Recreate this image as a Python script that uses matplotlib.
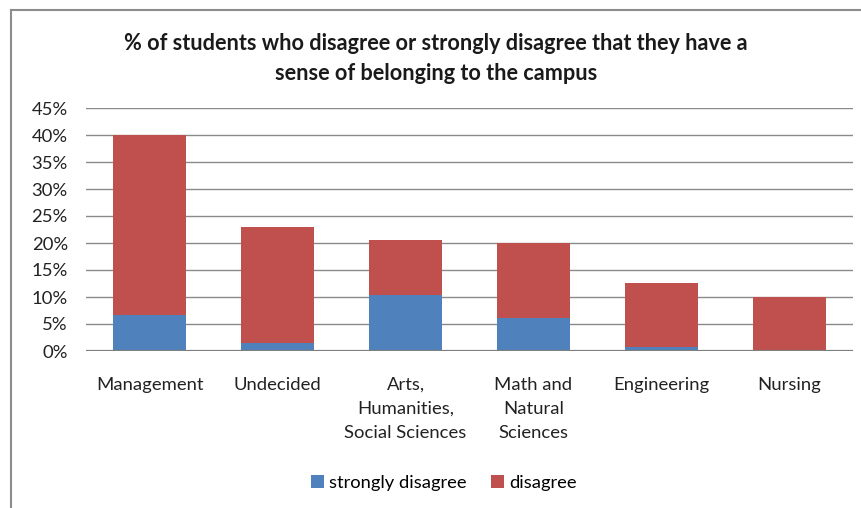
import matplotlib
matplotlib.use("Agg")
import matplotlib.pyplot as plt
from matplotlib.lines import Line2D
from matplotlib.patches import Patch
from matplotlib.ticker import PercentFormatter, MultipleLocator

plt.rcParams['font.family'] = ['Lato', 'DejaVu Sans']

categories = ["Management", "Undecided", "Arts,\nHumanities,\nSocial Sciences",
              "Math and\nNatural\nSciences", "Engineering", "Nursing"]
strongly_disagree = [6.6, 1.4, 10.3, 6.1, 0.7, 0.0]
disagree = [33.4, 21.5, 10.2, 13.9, 11.9, 10.0]

blue = "#4F81BD"
red = "#C0504D"
W, H = 862, 508
fig = plt.figure(figsize=(W / 100, H / 100), dpi=100)

ax = fig.add_axes([86 / W, 1 - 351 / H, (853 - 86) / W, (351 - 108) / H])
x = list(range(len(categories)))
ax.bar(x, strongly_disagree, width=0.57, color=blue, zorder=3)
ax.bar(x, disagree, bottom=strongly_disagree, width=0.57, color=red, zorder=3)

ax.set_xlim(-0.5, len(categories) - 0.5)
ax.set_ylim(0, 45)
ax.yaxis.set_major_locator(MultipleLocator(5))
ax.yaxis.set_major_formatter(PercentFormatter(decimals=0))
ax.grid(axis='y', color='#8a8a8a', linewidth=1.0, zorder=0)
for s in ax.spines.values():
    s.set_visible(False)
ax.axhline(0, color='#7f7f7f', linewidth=1.6, zorder=4)
ax.set_xticks(x)
ax.set_xticklabels(categories, linespacing=1.62)
ax.tick_params(axis='both', length=0, labelsize=13.3, colors='#000000')
ax.tick_params(axis='y', pad=13)
ax.tick_params(axis='x', pad=18.5)
for t in ax.get_xticklabels() + ax.get_yticklabels():
    t.set_color('#222222')

fig.text(436 / W, 1 - 58.5 / H,
         "% of students who disagree or strongly disagree that they have a\nsense of belonging to the campus",
         ha='center', va='center', fontsize=15.6, fontweight='bold', linespacing=1.5,
         color='#1a1a1a')

handles = [Patch(facecolor=blue, label="strongly disagree"),
           Patch(facecolor=red, label="disagree")]
fig.legend(handles=handles, loc='center', bbox_to_anchor=(444 / W, 1 - 483 / H),
           ncol=2, frameon=False, fontsize=13.2, handlelength=0.7, handleheight=0.7,
           handletextpad=0.3, columnspacing=1.3)

# chart frame edges
fig.add_artist(Line2D([11 / W, 11 / W], [0, 1 - 10 / H], transform=fig.transFigure,
                      color='#8c8c8c', linewidth=1.5))
fig.add_artist(Line2D([11 / W, 1], [1 - 10 / H, 1 - 10 / H], transform=fig.transFigure,
                      color='#8c8c8c', linewidth=1.5))

fig.savefig("out.png", dpi=100, facecolor='white')
